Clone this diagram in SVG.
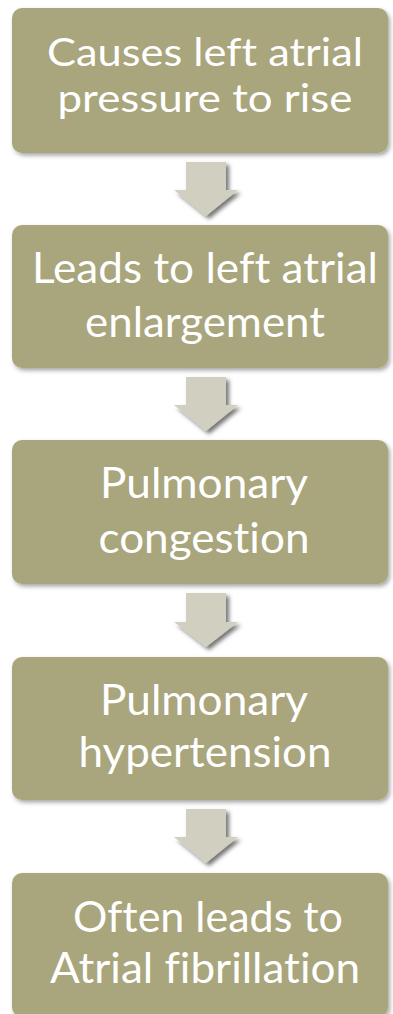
<svg xmlns="http://www.w3.org/2000/svg" width="393" height="1014" viewBox="0 0 393 1014">
<defs>
<filter id="boxShadow" x="-10%" y="-10%" width="120%" height="130%">
<feDropShadow dx="2" dy="2.5" stdDeviation="2" flood-color="#000" flood-opacity="0.35"/>
</filter>
<filter id="arrowShadow" x="-30%" y="-30%" width="160%" height="160%">
<feDropShadow dx="3" dy="3" stdDeviation="2" flood-color="#000" flood-opacity="0.55"/>
</filter>
<style>
.box{fill:#a9a57c;filter:url(#boxShadow);}
.arrow{fill:#d0cfc0;filter:url(#arrowShadow);}
.t{font-family:Lato,"Liberation Sans",sans-serif;fill:#ffffff;text-anchor:middle;font-size:42px;font-variant-ligatures:none;font-feature-settings:"liga" 0,"dlig" 0;}
.t1{font-size:39px;}
</style>
</defs>
<rect width="393" height="1014" fill="#ffffff"/>
<g id="connectors">
<path class="arrow" d="M186,162 H226 V190 H238 L206,216 L174,190 H186 Z"/>
<path class="arrow" d="M186,377 H226 V405 H238 L206,431 L174,405 H186 Z"/>
<path class="arrow" d="M186,593 H226 V622 H238 L206,647 L174,622 H186 Z"/>
<path class="arrow" d="M186,809 H226 V837 H238 L206,863 L174,837 H186 Z"/>
</g>
<g id="node1">
<rect class="box" x="12" y="8" width="376" height="145" rx="10" ry="10"/>
<text class="t t1" x="205" y="66" textLength="316" lengthAdjust="spacingAndGlyphs">Causes left atrial</text>
<text class="t t1" x="205" y="112" textLength="295" lengthAdjust="spacingAndGlyphs">pressure to rise</text>
</g>
<g id="node2">
<rect class="box" x="12" y="225" width="376" height="143" rx="10" ry="10"/>
<text class="t" x="205" y="283" textLength="346" lengthAdjust="spacingAndGlyphs">Leads to left atrial</text>
<text class="t" x="205" y="337" textLength="240" lengthAdjust="spacingAndGlyphs">enlargement</text>
</g>
<g id="node3">
<rect class="box" x="12" y="440" width="376" height="144" rx="10" ry="10"/>
<text class="t" x="204" y="498" textLength="208" lengthAdjust="spacingAndGlyphs">Pulmonary</text>
<text class="t" x="204" y="553" textLength="211" lengthAdjust="spacingAndGlyphs">congestion</text>
</g>
<g id="node4">
<rect class="box" x="12" y="657" width="376" height="143" rx="10" ry="10"/>
<text class="t" x="204" y="715" textLength="208" lengthAdjust="spacingAndGlyphs">Pulmonary</text>
<text class="t" x="205" y="767" textLength="253" lengthAdjust="spacingAndGlyphs">hypertension</text>
</g>
<g id="node5">
<rect class="box" x="12" y="873" width="376" height="144" rx="10" ry="10"/>
<text class="t" x="208" y="932" textLength="270" lengthAdjust="spacingAndGlyphs">Often leads to</text>
<text class="t" x="205" y="983" textLength="310" lengthAdjust="spacingAndGlyphs">Atrial fibrillation</text>
</g>
</svg>
